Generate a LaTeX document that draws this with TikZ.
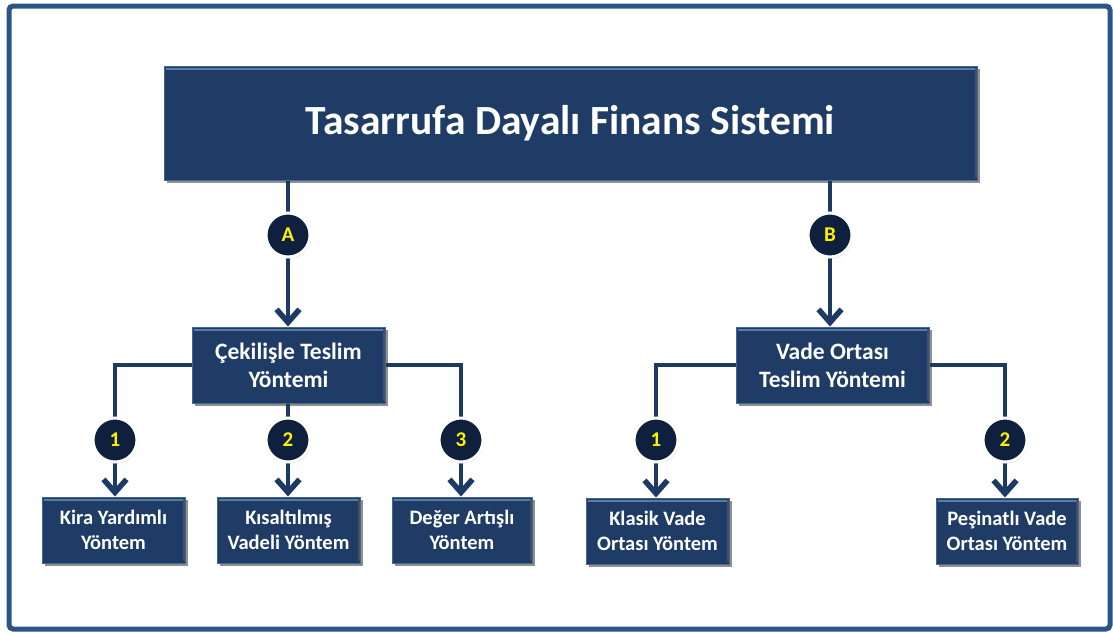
\documentclass[tikz,border=0pt]{standalone}
\usepackage{fontspec}
\setmainfont{Carlito}
\usetikzlibrary{arrows.meta,shadows,calc,backgrounds}

\definecolor{frameblue}{HTML}{2A5585}
\definecolor{boxfill}{HTML}{1F3C66}
\definecolor{boxedge}{HTML}{46658F}
\definecolor{boxlight}{HTML}{5A7CA8}
\definecolor{linkblue}{HTML}{1C3A63}
\definecolor{badgefill}{HTML}{0E203D}
\definecolor{badgetext}{HTML}{FFF200}

\tikzset{
  panel/.style={draw=boxedge, line width=1pt, fill=boxfill, text=white,
    font=\bfseries, align=center, inner sep=0pt,
    drop shadow={shadow xshift=2.5pt, shadow yshift=-2.5pt, opacity=0.55, fill=black!80},
    path picture={
      \draw[boxlight, line width=2pt]
        ($(path picture bounding box.north west)+(2pt,-2.5pt)$) --
        ($(path picture bounding box.north east)+(-2pt,-2.5pt)$);
      \draw[black!60, opacity=0.5, line width=2pt]
        ($(path picture bounding box.south east)+(-1.5pt,2pt)$) --
        ($(path picture bounding box.north east)+(-1.5pt,-2pt)$);
    }},
  titlebox/.style={panel, minimum width=813pt, minimum height=114pt,
    font=\bfseries\fontsize{41.5}{49}\selectfont},
  midbox/.style={panel, minimum width=193pt, minimum height=76pt,
    font=\bfseries\fontsize{23.5}{28}\selectfont},
  leafbox/.style={panel, minimum width=143pt, minimum height=66pt,
    font=\bfseries\fontsize{20.5}{25}\selectfont},
  badge/.style={circle, draw=white, line width=3pt, fill=badgefill,
    minimum size=44pt, inner sep=0pt, text=badgetext,
    font=\bfseries\fontsize{21}{24}\selectfont,
    drop shadow={shadow xshift=1pt, shadow yshift=-1.5pt, opacity=0.35, fill=black!60}},
  link/.style={draw=linkblue, line width=4pt},
  flow/.style={link, -{Straight Barb[length=13pt, width=23pt, line width=5.5pt]}},
}

\begin{document}
\begin{tikzpicture}[x=1pt, y=-1pt]
  \useasboundingbox (0,0) rectangle (1113,632);
  \begin{scope}[on background layer]
    \fill[white] (0,0) rectangle (1113,632);
  \end{scope}

  % outer frame
  \draw[frameblue, line width=5pt, rounded corners=4pt] (9,6) rectangle (1110,629);

  % boxes
  \node[titlebox] (top) at (570.5,123) {Tasarrufa Dayalı Finans Sistemi};

  \node[midbox] (cek)  at (288.5,365) {Çekilişle Teslim\\Yöntemi};
  \node[midbox] (vade) at (832.5,365) {Vade Ortası\\Teslim Yöntemi};

  \node[leafbox] (kira)  at (113.5,530) {Kira Yardımlı\\Yöntem};
  \node[leafbox] (kisa)  at (288.5,530) {Kısaltılmış\\Vadeli Yöntem};
  \node[leafbox, minimum width=140pt] (deger) at (462,530) {Değer Artışlı\\Yöntem};
  \node[leafbox] (klasik) at (657.5,531) {Klasik Vade\\Ortası Yöntem};
  \node[leafbox, minimum width=142pt] (pesin) at (1007,531) {Peşinatlı Vade\\Ortası Yöntem};

  % numbered badges
  \node[badge] (A)  at (288,235)  {A};
  \node[badge] (B)  at (830,235)  {B};
  \node[badge] (a1) at (115,440) {1};
  \node[badge] (a2) at (288,440) {2};
  \node[badge] (a3) at (461,440) {3};
  \node[badge] (b1) at (656,440) {1};
  \node[badge] (b2) at (1005,440) {2};

  % connectors, kept behind the boxes and badges
  \begin{scope}[on background layer]
    \draw[link] (A |- top.south) -- (A.center);
    \draw[flow] (A.center) -- (A |- cek.north);
    \draw[link] (B |- top.south) -- (B.center);
    \draw[flow] (B.center) -- (B |- vade.north);

    \draw[link] (cek.west) -| (a1.center);
    \draw[flow] (a1.center) -- (a1 |- kira.north);
    \draw[link] (a2 |- cek.south) -- (a2.center);
    \draw[flow] (a2.center) -- (a2 |- kisa.north);
    \draw[link] (cek.east) -| (a3.center);
    \draw[flow] (a3.center) -- (a3 |- deger.north);

    \draw[link] (vade.west) -| (b1.center);
    \draw[flow] (b1.center) -- (b1 |- klasik.north);
    \draw[link] (vade.east) -| (b2.center);
    \draw[flow] (b2.center) -- (b2 |- pesin.north);
  \end{scope}
\end{tikzpicture}
\end{document}
